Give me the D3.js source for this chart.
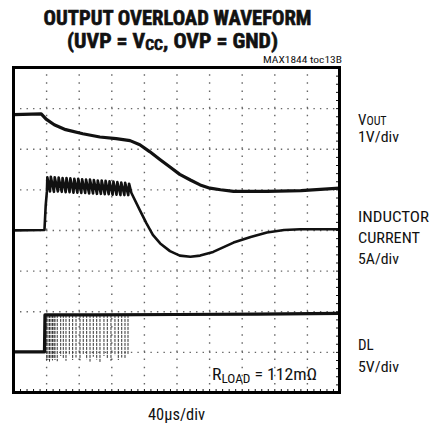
<!DOCTYPE html>
<html>
<head>
  <script src="https://d3js.org/d3.v7.min.js"></script>
  <style>
    body { margin: 0; background: #fff; }
    text { font-family: "Liberation Sans Narrow", "Roboto Condensed", "Liberation Sans", sans-serif; fill: #111; }
    .grid line { stroke: #666; stroke-width: 1.4; }
    .grid .domain, .edge .domain { stroke: none; }
    .edge line { stroke: #111; stroke-width: 1; }
  </style>
</head>
<body>
<svg id="scope" width="440" height="427"></svg>
<script>
// time in µs (40µs/div), vertical in divisions from the bottom (0..8)
const vout = [[0,6.84],[34,6.86],[40,6.73],[50,6.59],[64,6.47],[85,6.37],[106,6.29],[126,6.25],[143,6.2],
  [155,6.1],[167,5.93],[180,5.73],[192,5.55],[204,5.37],[217,5.23],[229,5.11],[241,5.03],[254,4.99],
  [270,4.95],[311,4.95],[353,4.97],[400,5.03]];

const inductor = [[0,3.99],[38,4.0],[39.5,4.6],[41,4.95],
  [41.5,5.30],[44.8,4.95],[45.8,5.31],[49.6,4.94],[50.6,5.30],[54.4,4.95],[55.4,5.29],[59.2,4.94],
  [60.2,5.28],[64.0,4.93],[65.0,5.28],[68.8,4.93],[69.8,5.27],[73.6,4.92],[74.6,5.26],[78.4,4.92],
  [79.4,5.26],[83.2,4.91],[84.2,5.25],[88.0,4.91],[89.0,5.24],[92.8,4.90],[93.8,5.24],[97.6,4.90],
  [98.6,5.23],[102.4,4.89],[103.4,5.22],[107.2,4.89],[108.2,5.22],[112.0,4.88],[113.0,5.21],[116.8,4.88],
  [117.8,5.20],[121.6,4.87],[122.6,5.19],[126.4,4.87],[127.4,5.18],[131.2,4.86],[132.2,5.17],[136.0,4.86],
  [137.0,5.16],[140.8,4.86],[141.8,5.14],
  [144.7,4.91],[155,4.49],[163,4.17],[171,3.88],[180,3.67],[192,3.48],[204,3.37],[217,3.34],[229,3.37],
  [245,3.46],[270,3.69],[291,3.83],[311,3.94],[332,4.0],[352,4.02],[400,4.02]];

const dl = [[0,1.0],[38,1.0],[38.6,1.91],[100,1.91],[200,1.92],[300,1.93],[400,1.95]];
const dlSpikeTimes = [40.7,42.3,44.2,46,47.9,49.7,50.9,53.7,57.9,61.1,64.4,68.5,72.6,76.7,81.6,85.6,
  89.8,93.9,97.9,102.1,106.1,111,115.1,119.6,124.5,128.6,132.8,136.8,140.5];
const dlSpikeLows = [0.78,0.80,0.76,0.82,0.79,0.85,0.80,0.77,0.90,0.84,0.78,0.92,0.80,0.86,0.79,
  0.93,0.82,0.76,0.88,0.81,0.75,0.90,0.83,0.78,0.92,0.80,0.86,0.84,0.95];

const majorX = [40,80,120,160,200,240,280,320,360];
const majorY = [1,2,3,4,5,6,7];
const minorX = d3.range(0, 401, 8);
const minorY = d3.range(0, 8.01, 0.2);

const svg = d3.select("#scope");
const x = d3.scaleLinear().domain([0, 400]).range([13.5, 339.5]);
const y = d3.scaleLinear().domain([0, 8]).range([392.5, 67.5]);
const W = 326, H = 325;

// titles
svg.append("text").attr("x", 177.5).attr("y", 25).attr("text-anchor", "middle")
  .attr("font-size", 21).attr("font-weight", "bold").style("stroke", "#111").style("stroke-width", 0.6)
  .attr("textLength", 268).attr("lengthAdjust", "spacingAndGlyphs")
  .text("OUTPUT OVERLOAD WAVEFORM");
const t2 = svg.append("text").attr("x", 67).attr("y", 48)
  .attr("font-size", 21).attr("font-weight", "bold").style("stroke", "#111").style("stroke-width", 0.6)
  .attr("textLength", 211).attr("lengthAdjust", "spacingAndGlyphs");
t2.append("tspan").text("(UVP = V");
t2.append("tspan").attr("font-size", 15).attr("dy", 2).text("CC");
t2.append("tspan").attr("dy", -2).text(", OVP = GND)");
svg.append("text").attr("x", 263).attr("y", 63).attr("font-size", 9)
  .attr("textLength", 79).attr("lengthAdjust", "spacingAndGlyphs").text("MAX1844 toc13B");

// graticule
const plot = svg.append("g");
plot.append("g").attr("class", "grid").attr("transform", `translate(0,${y(0)})`)
  .call(d3.axisBottom(x).tickValues(majorX).tickSize(-H).tickFormat(""))
  .selectAll("line").attr("stroke-dasharray", "1.4," + (H / 40 - 1.4));
plot.append("g").attr("class", "grid").attr("transform", `translate(${x(0)},0)`)
  .call(d3.axisLeft(y).tickValues(majorY).tickSize(-W).tickFormat(""))
  .selectAll("line").attr("stroke-dasharray", "1.4," + (W / 50 - 1.4));
plot.append("g").attr("class", "edge").attr("transform", `translate(0,${y(0)})`)
  .call(d3.axisBottom(x).tickValues(minorX).tickSize(-3.5).tickFormat(""));
plot.append("g").attr("class", "edge").attr("transform", `translate(${x(400)},0)`)
  .call(d3.axisRight(y).tickValues(minorY).tickSize(-3.5).tickFormat(""));

// traces
const line = d3.line().x(d => x(d[0])).y(d => y(d[1]));
plot.append("path").datum(vout).attr("d", line).attr("fill", "none")
  .attr("stroke", "#111").attr("stroke-width", 3.2).attr("stroke-linejoin", "round");
plot.append("path").datum(inductor).attr("d", line).attr("fill", "none")
  .attr("stroke", "#111").attr("stroke-width", 2.6).attr("stroke-linejoin", "round");
plot.selectAll(".spike").data(dlSpikeTimes).enter().append("line").attr("class", "spike")
  .attr("x1", d => x(d)).attr("x2", d => x(d))
  .attr("y1", y(1.91)).attr("y2", (d, i) => y(dlSpikeLows[i]))
  .attr("stroke", "#333").attr("stroke-width", 1).attr("stroke-dasharray", "3,1");
plot.append("path").datum(dl).attr("d", line).attr("fill", "none")
  .attr("stroke", "#111").attr("stroke-width", 3.2).attr("stroke-linejoin", "round");

// frame
svg.append("rect").attr("x", x(0)).attr("y", y(8)).attr("width", W).attr("height", H)
  .attr("fill", "none").attr("stroke", "#000").attr("stroke-width", 3);

// right-hand labels
const lab = svg.append("g").attr("font-size", 15);
const v = lab.append("text").attr("x", 358).attr("y", 124.5);
v.append("tspan").text("V");
v.append("tspan").attr("font-size", 12).text("OUT");
lab.append("text").attr("x", 358).attr("y", 142).attr("textLength", 41).attr("lengthAdjust", "spacingAndGlyphs").text("1V/div");
lab.append("text").attr("x", 358).attr("y", 222).attr("textLength", 71).attr("lengthAdjust", "spacingAndGlyphs").text("INDUCTOR");
lab.append("text").attr("x", 358).attr("y", 243).attr("textLength", 62).attr("lengthAdjust", "spacingAndGlyphs").text("CURRENT");
lab.append("text").attr("x", 358).attr("y", 264).attr("textLength", 41).attr("lengthAdjust", "spacingAndGlyphs").text("5A/div");
lab.append("text").attr("x", 358).attr("y", 350).text("DL");
lab.append("text").attr("x", 358).attr("y", 372).attr("textLength", 41).attr("lengthAdjust", "spacingAndGlyphs").text("5V/div");

const r = svg.append("text").attr("x", 212).attr("y", 379.5).attr("font-size", 16)
  .attr("textLength", 105).attr("lengthAdjust", "spacingAndGlyphs");
r.append("tspan").text("R");
r.append("tspan").attr("font-size", 12).attr("dy", 3).text("LOAD");
r.append("tspan").attr("dy", -3).text(" = 112m\u03A9");

svg.append("text").attr("x", 148).attr("y", 420).attr("font-size", 16)
  .attr("textLength", 57).attr("lengthAdjust", "spacingAndGlyphs").text("40\u00B5s/div");
</script>
</body>
</html>
